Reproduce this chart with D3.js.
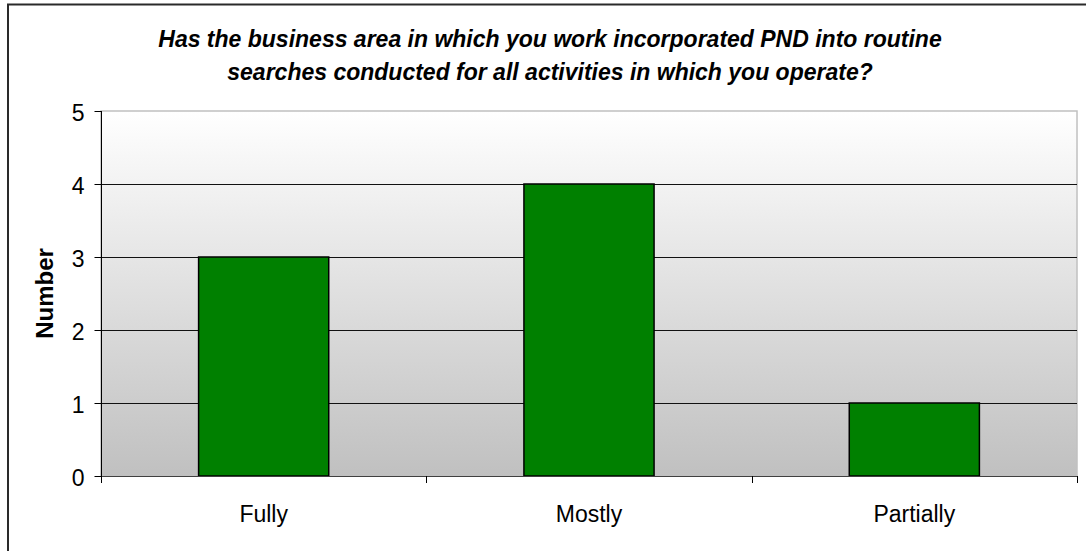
<!DOCTYPE html>
<html><head><meta charset="utf-8">
<script src="https://cdn.jsdelivr.net/npm/d3@7"></script>
<style>html,body{margin:0;padding:0;background:#fff;overflow:hidden}svg{display:block}</style>
</head><body>
<svg id="c" width="1086" height="551"></svg>
<script>
const categories = ["Fully", "Mostly", "Partially"];
const values = [3, 4, 1];
const yTicks = [0, 1, 2, 3, 4, 5];
const titleLines = ["Has the business area in which you work incorporated PND into routine",
                    "searches conducted for all activities in which you operate?"];
const yTitle = "Number";

const svg = d3.select("#c");
const plot = {left: 101, right: 1077, top: 111, bottom: 476};
const font = "Liberation Sans, Arial, sans-serif";

// outer frame
svg.append("rect").attr("x", 8).attr("y", 4.5).attr("width", 1200).attr("height", 700)
  .attr("fill", "#fff").attr("stroke", "#2a2a2a").attr("stroke-width", 2);

const defs = svg.append("defs");
const grad = defs.append("linearGradient").attr("id", "bg").attr("x1", 0).attr("y1", 0).attr("x2", 0).attr("y2", 1);
grad.append("stop").attr("offset", "0%").attr("stop-color", "#ffffff");
grad.append("stop").attr("offset", "100%").attr("stop-color", "#c0c0c0");

const x = d3.scaleBand().domain(categories).range([plot.left, plot.right]).padding(0);
const y = d3.scaleLinear().domain([0, 5]).range([plot.bottom, plot.top]);

// plot background
svg.append("rect").attr("x", plot.left).attr("y", plot.top)
  .attr("width", plot.right - plot.left).attr("height", plot.bottom - plot.top)
  .attr("fill", "url(#bg)").attr("stroke", "#c0c0c0").attr("stroke-width", 1.5);

// gridlines
svg.append("g").selectAll("line").data(yTicks.filter(d => d > 0 && d < 5)).join("line")
  .attr("x1", plot.left).attr("x2", plot.right)
  .attr("y1", d => Math.round(y(d)) + 0.5).attr("y2", d => Math.round(y(d)) + 0.5)
  .attr("stroke", "#111").attr("stroke-width", 1);

// bars
const bw = x.bandwidth() * 0.4;
svg.append("g").selectAll("rect").data(values).join("rect")
  .attr("x", (d, i) => x(categories[i]) + x.bandwidth() / 2 - bw / 2)
  .attr("y", d => y(d))
  .attr("width", bw)
  .attr("height", d => y(0) - y(d))
  .attr("fill", "#008000").attr("stroke", "#000").attr("stroke-width", 1.5);

// y axis
const yAxis = d3.axisLeft(y).tickValues(yTicks).tickSize(7).tickPadding(10).tickFormat(d3.format("d"));
const gy = svg.append("g").attr("transform", `translate(${plot.left + 0.5},0)`).call(yAxis);
gy.select(".domain").attr("stroke", "#000").attr("d", `M0,${plot.top}V${plot.bottom}`);
gy.selectAll(".tick line").attr("stroke", "#000");
gy.selectAll(".tick text").attr("font-family", font).attr("font-size", 23).attr("fill", "#000")
  .attr("dy", "0.42em");

// x axis
const xAxis = d3.axisBottom(x).tickSize(0).tickPadding(0);
const gx = svg.append("g").attr("transform", `translate(0,${plot.bottom})`).call(xAxis);
gx.select(".domain").attr("stroke", "#404040").attr("d", `M${plot.left},0.5H${plot.right}`);
gx.selectAll(".tick text").attr("font-family", font).attr("font-size", 23).attr("fill", "#000")
  .attr("dy", null).attr("y", 46);
// category boundary ticks
const bounds = categories.map(c => x(c)).concat([plot.right]);
gx.append("g").selectAll("line").data(bounds).join("line")
  .attr("x1", d => Math.round(d) + 0.5).attr("x2", d => Math.round(d) + 0.5)
  .attr("y1", 0).attr("y2", 7).attr("stroke", "#000");

// title
svg.append("g").selectAll("text").data(titleLines).join("text")
  .attr("x", 550).attr("y", (d, i) => 47 + i * 33)
  .attr("text-anchor", "middle").attr("font-family", font)
  .attr("font-size", 23).attr("font-weight", "bold").attr("font-style", "italic")
  .text(d => d);

// y title
svg.append("text").attr("transform", `translate(53,${(plot.top + plot.bottom) / 2}) rotate(-90)`)
  .attr("text-anchor", "middle").attr("font-family", font)
  .attr("font-size", 24).attr("font-weight", "bold").text(yTitle);
</script>
</body></html>
